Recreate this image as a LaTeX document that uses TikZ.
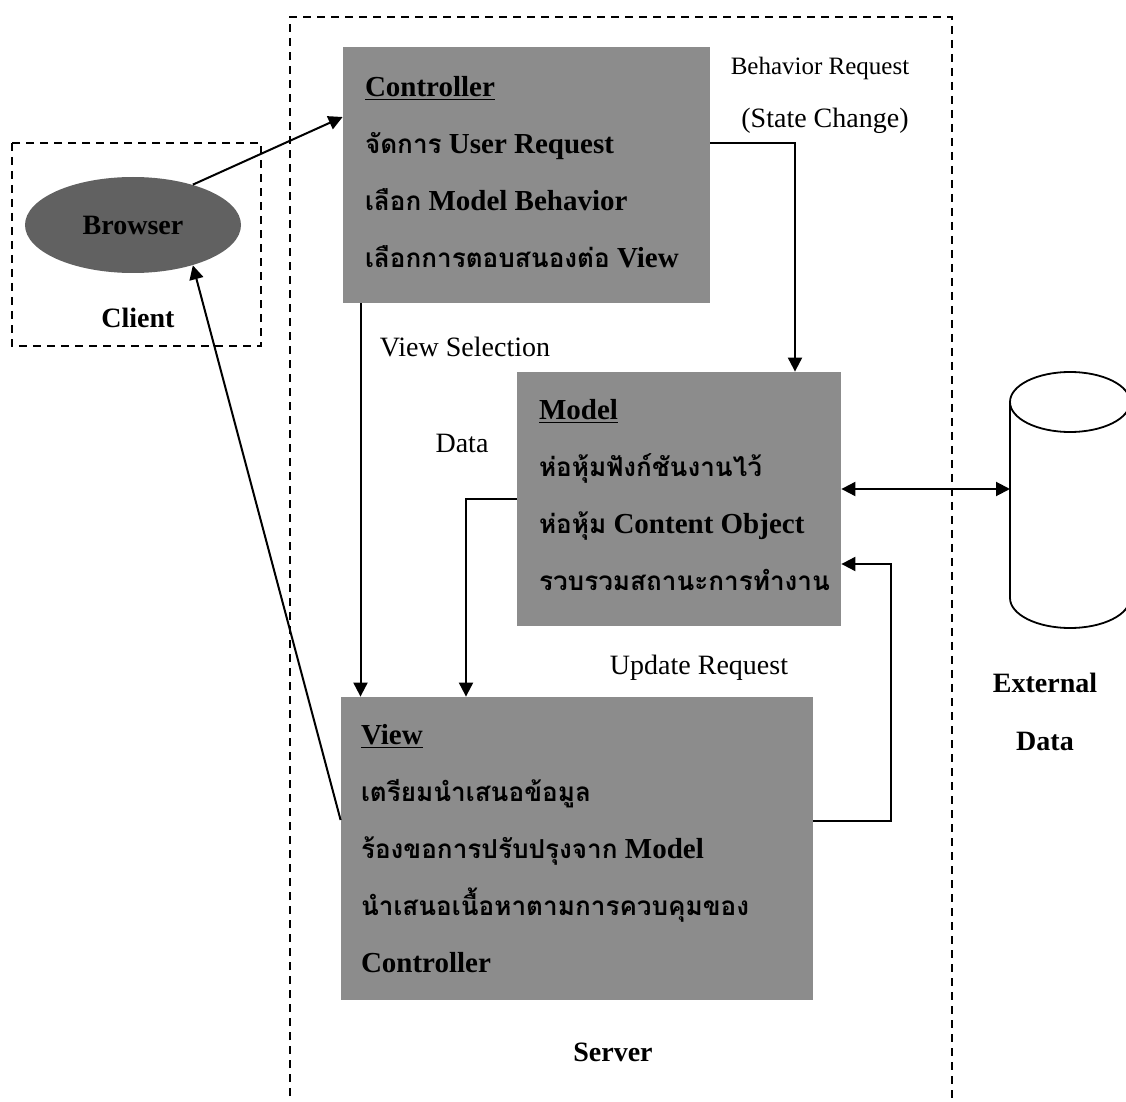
\documentclass[tikz,border=0pt]{standalone}
\usepackage{fontspec}
\setmainfont{Liberation Serif}
\newfontfamily\thaifont[Script=Thai,Scale=0.9]{Loma}
\usetikzlibrary{arrows.meta,positioning,calc,shapes.geometric}
\newcommand{\thtxt}[1]{{\thaifont #1}}

\tikzset{
  mvcbox/.style={draw=none,fill=black!45,inner sep=0pt},
  boxline/.style={anchor=base west,inner sep=0pt,font=\bfseries\fontsize{14.5}{17}\selectfont},
  lbl/.style={font=\fontsize{14}{17}\selectfont,inner sep=1pt},
  blbl/.style={font=\bfseries\fontsize{14}{17}\selectfont,inner sep=1pt},
  flow/.style={line width=1pt,->},
  zone/.style={line width=1pt,dash pattern=on 4pt off 3pt},
  >={Triangle[length=7pt,width=7pt]}
}

\begin{document}
\begin{tikzpicture}[x=0.5pt,y=-0.5pt]
\useasboundingbox (0,0) rectangle (1126,1102);

% client and server zones
\draw[zone] (290,1110) |- (952,17) -- (952,1110);
\draw[zone,line width=1.2pt] (12,143) rectangle (261,346);
\node[blbl] (client) at (138,318) {Client};
\node[blbl] (server) at (613,1052) {Server};

% browser
\node[ellipse,fill=black!62,minimum width=108pt,minimum height=48pt,inner sep=0pt,
      font=\bfseries\fontsize{14}{17}\selectfont] (browser) at (133,225) {Browser};

% MVC boxes
\node[mvcbox,minimum width=183.5pt,minimum height=128pt] (ctrl) at (526.5,175) {};
\node[mvcbox,minimum width=162pt,minimum height=127pt] (model) at (679,499) {};
\node[mvcbox,minimum width=236pt,minimum height=151.5pt] (view) at (577,848.5) {};

\foreach \txt [count=\i] in {\underline{Controller},
    {\thtxt{จัดการ} User Request},
    {\thtxt{เลือก} Model Behavior},
    {\thtxt{เลือกการตอบสนองต่อ} View}}
  \node[boxline] (ctrl-\i) at ($(ctrl.north west)+(22,{50+57*(\i-1)})$) {\txt};

\foreach \txt [count=\i] in {\underline{Model},
    {\thtxt{ห่อหุ้มฟังก์ชันงานไว้}},
    {\thtxt{ห่อหุ้ม} Content Object},
    {\thtxt{รวบรวมสถานะการทำงาน}}}
  \node[boxline] (model-\i) at ($(model.north west)+(22,{48+57*(\i-1)})$) {\txt};

\foreach \txt [count=\i] in {\underline{View},
    {\thtxt{เตรียมนำเสนอข้อมูล}},
    {\thtxt{ร้องขอการปรับปรุงจาก} Model},
    {\thtxt{นำเสนอเนื้อหาตามการควบคุมของ}},
    Controller}
  \node[boxline] (view-\i) at ($(view.north west)+(20,{48+57*(\i-1)})$) {\txt};

% external data store
\draw[line width=0.9pt,fill=white] (1010,402) -- (1010,598)
  arc[start angle=180,end angle=0,x radius=60,y radius=30] -- (1130,402);
\draw[line width=0.9pt,fill=white] (1070,402) ellipse [x radius=60,y radius=30];
\coordinate (dbleft) at (1010,489);
\node[blbl] (extdata) at (1045,683) {External};
\node[blbl] (extdata2) at (1045,741) {Data};

% connectors
\draw[flow] (browser.34) -- ([yshift=29pt]ctrl.west);
\draw[flow] ([yshift=14.25pt]view.west) -- (browser.-34);
\draw[flow] ([yshift=16pt]ctrl.east) -| ([xshift=58pt]model.north);
\draw[flow] ([xshift=-83pt]ctrl.south) -- ([xshift=-83pt]ctrl.south |- view.north);
\draw[flow] (model.west) -| ([xshift=-55.5pt]view.north);
\draw[flow] ([yshift=13.75pt]view.east) -- ++(78,0) |- ([yshift=-32.5pt]model.east);
\draw[flow,<->] ([yshift=5pt]model.east) -- (dbleft);

% connector labels
\node[lbl,font=\fontsize{12.5}{15}\selectfont] (behav) at (820,68) {Behavior Request};
\node[lbl] (state) at (825,121) {(State Change)};
\node[lbl] (viewsel) at (465,347) {View Selection};
\node[lbl] (data) at (462,443) {Data};
\node[lbl] (update) at (699,668) {Update Request};
\end{tikzpicture}
\end{document}
